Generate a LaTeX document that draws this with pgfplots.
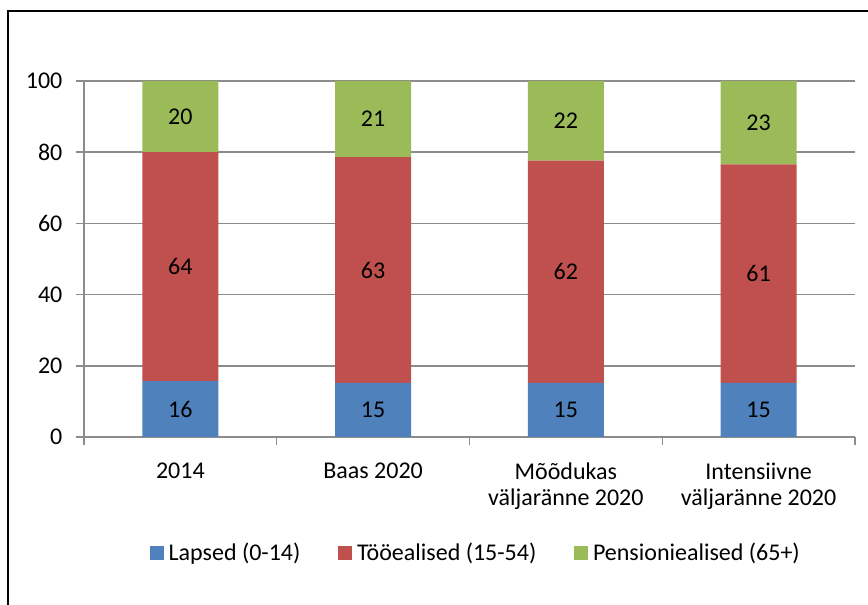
\documentclass[border=0pt]{standalone}
\usepackage{fontspec}
\setmainfont{Carlito}
\usepackage{pgfplots}
\usepackage{pgfplotstable}
\pgfplotsset{compat=1.18}
\pgfkeys{/pgf/number format/assume math mode=true}

\definecolor{lapsed}{HTML}{4F81BD}
\definecolor{tooe}{HTML}{C0504D}
\definecolor{pens}{HTML}{9BBB59}
\definecolor{axgray}{HTML}{8C8C8C}

% shares in %, categories at 0..3
\pgfplotstableread{
x lapsed tooe pens
0 15.7 64.3 20.0
1 15.2 63.4 21.4
2 15.2 62.4 22.4
3 15.2 61.4 23.4
}\shares

\pgfplotsset{legsq/.style={legend image code/.code={\fill[##1] (0pt,-5.25pt) rectangle (10.5pt,5.25pt);}}}

\begin{document}
\fontsize{18}{20}\selectfont
\begin{tikzpicture}
\draw[line width=1.1pt] (6pt,0pt) -- (6pt,445.5pt) -- (651pt,445.5pt);
\begin{axis}[
    at={(63pt,126pt)}, anchor=south west,
    width=578.25pt, height=267pt, scale only axis,
    xmin=-0.5, xmax=3.5, ymin=0, ymax=100,
    ybar stacked, bar width=57pt,
    xtick={0,1,2,3},
    xticklabels={2014,Baas 2020,{Mõõdukas\\väljaränne 2020},{Intensiivne\\väljaränne 2020}},
    xticklabel style={align=center, text=black, yshift=-7pt},
    every major x tick/.append style={draw=none},
    minor xtick={-0.5,0.5,1.5,2.5,3.5},
    ytick={0,20,40,60,80,100},
    yticklabel style={text=black, xshift=-4pt},
    tick align=outside, tick pos=left,
    major tick length=6pt, minor tick length=6pt,
    every tick/.append style={axgray, line width=1.1pt},
    ymajorgrids, major grid style={axgray, line width=1.1pt},
    axis x line*=bottom, axis y line*=left,
    axis line style={-, draw=axgray, line width=1.1pt},
    nodes near coords={\pgfmathprintnumber[fixed,precision=0]{\pgfplotspointmeta}},
    every node near coord/.append style={anchor=center, text=black},
    legend columns=3,
    legend style={draw=none, at={(0.51,-0.326)}, anchor=center, text=black,
        nodes={inner xsep=3.5pt},
        /tikz/every even column/.append style={column sep=25pt}},
    /pgf/number format/assume math mode=true,
]
\addplot[fill=lapsed, draw=none, legsq] table[x=x, y=lapsed] {\shares};
\addplot[fill=tooe, draw=none, legsq] table[x=x, y=tooe] {\shares};
\addplot[fill=pens, draw=none, legsq] table[x=x, y=pens] {\shares};
\legend{Lapsed (0-14), Tööealised (15-54), Pensioniealised (65+)}
\end{axis}
\pgfresetboundingbox
\useasboundingbox (0pt,0pt) rectangle (651pt,453.75pt);
\end{tikzpicture}
\end{document}
